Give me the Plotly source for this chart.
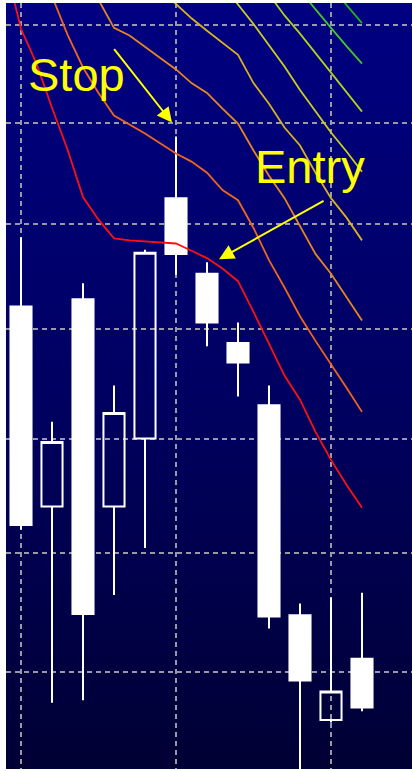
import base64
import numpy as np
import plotly.graph_objects as go

# ---------------- data (prices) ----------------
candle_x = [0, 1, 2, 3, 4, 5, 6, 7, 8, 9, 10, 11]
open_ = [25.21, 23.40, 25.28, 23.40, 24.00, 26.25, 25.52, 24.87, 24.30, 22.47, 21.61, 22.11]
high_ = [25.87, 24.15, 25.43, 24.48, 25.75, 26.86, 25.63, 25.06, 24.48, 22.57, 22.62, 22.66]
low_ = [23.20, 21.75, 21.77, 22.64, 23.04, 25.51, 24.84, 24.38, 22.36, 21.13, 21.59, 21.68]
close_ = [23.24, 23.97, 22.48, 24.23, 25.72, 25.71, 25.06, 24.69, 22.46, 21.93, 21.84, 21.71]

red_x = [-0.5, 0, 0.5, 1, 1.5, 2, 2.5, 3, 3.5, 4, 4.5, 5, 5.5, 6, 6.5, 7, 7.5, 8, 8.5, 9, 9.5, 10, 10.5, 11]
red_y = [28.63, 27.96, 27.60, 27.15, 26.73, 26.26, 26.04, 25.86, 25.84, 25.83, 25.82, 25.81,
         25.74, 25.67, 25.57, 25.45, 25.16, 24.87, 24.57, 24.35, 24.06, 23.81, 23.59, 23.39]

orange1_x = [0.5, 1, 1.5, 2, 2.5, 3, 3.5, 4, 4.5, 5, 5.5, 6, 6.5, 7, 7.5, 8, 8.5, 9, 9.5, 10, 10.5, 11]
orange1_y = [28.71, 28.30, 27.90, 27.56, 27.30, 27.07, 26.98, 26.89, 26.79, 26.69, 26.61, 26.50,
             26.33, 26.23, 25.96, 25.65, 25.39, 25.12, 24.89, 24.68, 24.46, 24.24]

orange2_x = [2, 2.5, 3, 3.5, 4, 4.5, 5, 5.5, 6, 6.5, 7, 7.5, 8, 8.5, 9, 9.5, 10, 10.5, 11]
orange2_y = [28.56, 28.26, 27.97, 27.89, 27.77, 27.65, 27.54, 27.40, 27.30, 27.14, 26.99, 26.72,
             26.47, 26.25, 25.98, 25.71, 25.52, 25.30, 25.08]

gold_x = [4, 4.5, 5, 5.5, 6, 6.5, 7, 7.5, 8, 8.5, 9, 9.5, 10, 10.5, 11]
gold_y = [28.51, 28.37, 28.22, 28.07, 27.94, 27.81, 27.69, 27.40, 27.19, 26.95, 26.77, 26.50,
          26.25, 26.06, 25.84]

yellow_x = [6.5, 7, 7.5, 8, 8.5, 9, 9.5, 10, 10.5, 11]
yellow_y = [28.42, 28.22, 28.01, 27.79, 27.57, 27.33, 27.12, 26.90, 26.71, 26.51]

lime_x = [8, 8.5, 9, 9.5, 10, 10.5, 11]
lime_y = [28.32, 28.10, 27.91, 27.71, 27.50, 27.31, 27.11]

green1_x = [9, 9.5, 10, 10.5, 11]
green1_y = [28.36, 28.16, 27.97, 27.78, 27.60]

green2_x = [10, 10.5, 11]
green2_y = [28.40, 28.21, 28.02]

grid_prices = [22, 23, 24, 25, 26, 27, 28]
grid_x = [0, 5, 10]

# ---------------- figure ----------------
fig = go.Figure()

fig.add_trace(go.Candlestick(
    x=candle_x, open=open_, high=high_, low=low_, close=close_,
    increasing=dict(line=dict(color="white", width=2), fillcolor="rgba(0,0,0,0)"),
    decreasing=dict(line=dict(color="white", width=2), fillcolor="white"),
    whiskerwidth=0, showlegend=False, hoverinfo="skip",
))

line_specs = [
    (red_x, red_y, "#ff1010"),
    (orange1_x, orange1_y, "#f0641c"),
    (orange2_x, orange2_y, "#e8861e"),
    (gold_x, gold_y, "#d8b020"),
    (yellow_x, yellow_y, "#cccc22"),
    (lime_x, lime_y, "#b0d020"),
    (green1_x, green1_y, "#40c828"),
    (green2_x, green2_y, "#20b020"),
]
for xs, ys, col in line_specs:
    fig.add_trace(go.Scatter(x=xs, y=ys, mode="lines",
                             line=dict(color=col, width=1.8),
                             showlegend=False, hoverinfo="skip"))

# gradient background as an svg image
svg = ('<svg xmlns="http://www.w3.org/2000/svg" width="10" height="100" viewBox="0 0 10 100" '
       'preserveAspectRatio="none"><defs><linearGradient id="g" x1="0" y1="0" x2="0" y2="1">'
       '<stop offset="0" stop-color="#000082"/><stop offset="0.5" stop-color="#000062"/>'
       '<stop offset="1" stop-color="#000034"/></linearGradient></defs>'
       '<rect x="0" y="0" width="10" height="100" fill="url(#g)"/></svg>')
src = "data:image/svg+xml;base64," + base64.b64encode(svg.encode()).decode()

fig.update_layout(
    width=412, height=771, autosize=False,
    margin=dict(l=6, r=0, t=3, b=2),
    paper_bgcolor="white", plot_bgcolor="rgba(0,0,0,0)",
    boxgap=0.32, boxgroupgap=0,
    images=[dict(source=src, xref="paper", yref="paper", x=0, y=1, sizex=1, sizey=1,
                 sizing="stretch", layer="below", xanchor="left", yanchor="top")],
    showlegend=False,
)
grid_style = dict(showgrid=True, gridcolor="#9a9aa6", gridwidth=2, griddash="5px,4px",
                  zeroline=False, showline=False, showticklabels=False, ticks="")
fig.update_xaxes(range=[-0.484, 12.613], tickmode="array", tickvals=grid_x,
                 rangeslider=dict(visible=False), fixedrange=True, **grid_style)
fig.update_yaxes(type="log", range=[1.326723, 1.450719], autorange=False, tickmode="array",
                 tickvals=grid_prices, fixedrange=True, **grid_style)

font = dict(family="Arial, Liberation Sans, sans-serif", size=47, color="#ffff00")
fig.add_annotation(text="Stop", xref="paper", yref="paper", x=0.0493, y=0.9073,
                   xanchor="left", yanchor="middle", showarrow=False, font=font)
fig.add_annotation(text="Entry", xref="paper", yref="paper", x=0.608, y=0.7872,
                   xanchor="left", yanchor="middle", showarrow=False, font=font)
# arrows (tip in data coordinates, tail offset in pixels)
fig.add_annotation(text="", x=4.87, y=np.log10(27.0), xref="x", yref="y",
                   ax=-59, ay=-75, showarrow=True, arrowhead=2, arrowsize=1.5,
                   arrowwidth=2, arrowcolor="#ffff00", standoff=0)
fig.add_annotation(text="", x=6.39, y=np.log10(25.66), xref="x", yref="y",
                   ax=106, ay=-59, showarrow=True, arrowhead=2, arrowsize=1.5,
                   arrowwidth=2, arrowcolor="#ffff00", standoff=0)

fig.write_html("out.html", config={"displayModeBar": False},
               post_script="document.body.style.margin='0';document.body.style.padding='0';")
